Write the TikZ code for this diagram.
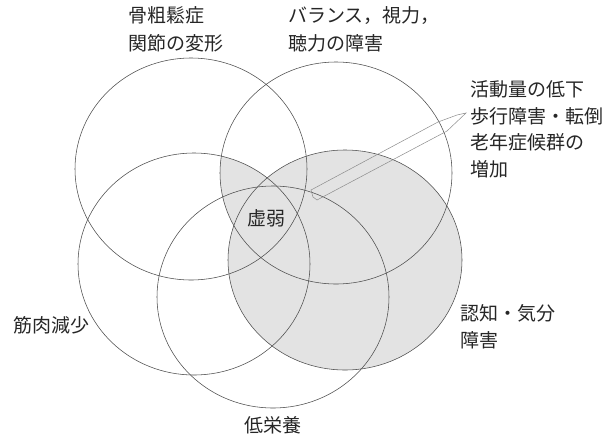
\documentclass[tikz,border=0pt]{standalone}
\usepackage{fontspec}
\newfontfamily\jp{Noto Sans CJK JP}
\begin{document}
\begin{tikzpicture}[x=1pt,y=-1pt,
  ring/.style={draw=black!70,line width=0.55pt},
  shade/.style={fill=black!11},
  lbl/.style={font=\jp\fontsize{19pt}{28pt}\selectfont,text=black!85,inner sep=0pt,align=left},
  ptr/.style={draw=black!45,line width=0.5pt,line join=miter}]
\useasboundingbox (0,0) rectangle (612,439);
\fill[white] (0,0) rectangle (612,439);
% shading
\fill[shade] (345,260) ellipse [x radius=117pt,y radius=110pt];
\begin{scope}
  \clip (336,173) ellipse [x radius=116pt,y radius=111pt];
  \fill[shade] (194,264) ellipse [x radius=116pt,y radius=111pt];
\end{scope}
% circles
\draw[ring] (191,169) ellipse [x radius=116pt,y radius=111pt];
\draw[ring] (336,173) ellipse [x radius=116pt,y radius=111pt];
\draw[ring] (194,264) ellipse [x radius=116pt,y radius=111pt];
\draw[ring] (273,297) ellipse [x radius=116pt,y radius=111pt];
\draw[ring] (345,260) ellipse [x radius=117pt,y radius=110pt];
% pointer
\coordinate (pend) at (466,113);
\coordinate (u1) at (311,190);
\coordinate (u2) at (438,122);
\coordinate (u3) at (457,115);
\coordinate (t) at (313,197);
\coordinate (l1) at (317,200);
\coordinate (l2) at (447,131);
\draw[ptr] (pend) -- (u3) -- (u2) -- (u1) -- (t) -- (l1) -- (l2) -- cycle;
% labels
\node[lbl,anchor=west] (bone) at (128,29) {骨粗鬆症\\関節の変形};
\node[lbl,anchor=west] (bal) at (288,29) {バランス，視力，\\聴力の障害};
\node[lbl,anchor=west,font=\jp\fontsize{19pt}{26.5pt}\selectfont] (act) at (470,129.5) {活動量の低下\\歩行障害・転倒\\老年症候群の\\増加};
\node[lbl,anchor=west] (mus) at (13,325) {筋肉減少};
\node[lbl,anchor=west,font=\jp\fontsize{19pt}{27pt}\selectfont] (cog) at (460,326.5) {認知・気分\\障害};
\node[lbl] (nut) at (273,425) {低栄養};
\node[lbl] (fra) at (266,218) {虚弱};
\end{tikzpicture}
\end{document}
